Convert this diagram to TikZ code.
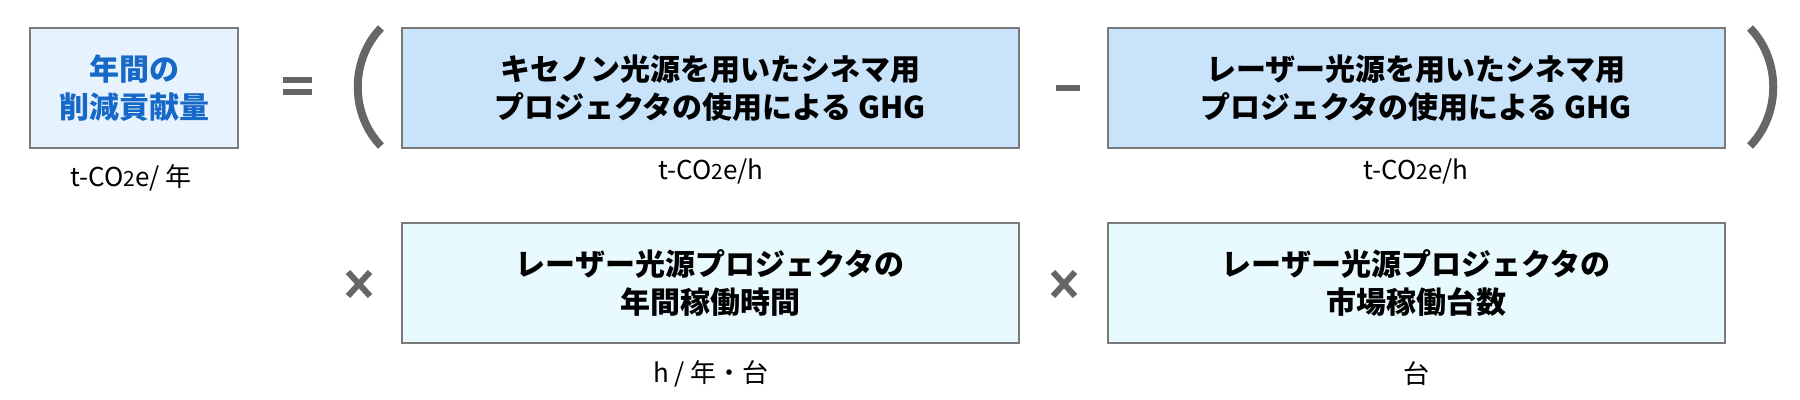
\documentclass[tikz,border=0pt]{standalone}
\usepackage{fontspec}
\setmainfont{Noto Sans CJK JP}
\definecolor{boxA}{HTML}{E6F2FD}
\definecolor{boxB}{HTML}{C9E3FA}
\definecolor{boxC}{HTML}{E8FAFD}
\definecolor{edge}{HTML}{7A7A7A}
\definecolor{op}{HTML}{666666}
\definecolor{titleblue}{HTML}{1769C8}
\newcommand{\cotwo}{t-CO{\fontsize{10.5pt}{10.5pt}\selectfont 2}e}
\begin{document}
\begin{tikzpicture}[x=0.5pt,y=-0.5pt,
  box/.style={draw=edge,line width=1pt,rectangle,align=center,inner sep=0pt,
    minimum height=60pt,font=\fontsize{15pt}{19pt}\selectfont\bfseries},
  wide/.style={box,minimum width=308.5pt},
  unit/.style={font=\fontsize{13pt}{15pt}\selectfont,inner sep=0pt,anchor=center},
  opline/.style={draw=op,line width=3pt},
  paren/.style={draw=op,line width=4pt}]
\useasboundingbox (0,0) rectangle (1800,400);
\node[box,fill=boxA,minimum width=104pt,text=titleblue] (total) at (134,88) {年間の\\削減貢献量};
\node[wide,fill=boxB] (xenon) at (710,88) {キセノン光源を用いたシネマ用\\プロジェクタの使用による GHG};
\node[wide,fill=boxB] (laser) at (1416,88) {レーザー光源を用いたシネマ用\\プロジェクタの使用による GHG};
\node[wide,fill=boxC] (hours) at (710,283) {レーザー光源プロジェクタの\\年間稼働時間};
\node[wide,fill=boxC] (units) at (1416,283) {レーザー光源プロジェクタの\\市場稼働台数};
\node[unit] (utotal) at (131,178) {\cotwo/ 年};
\node[unit] (uxenon) at (711,171) {\cotwo/h};
\node[unit] (ulaser) at (1416,171) {\cotwo/h};
\node[unit] (uhours) at (711,374) {h / 年・台};
\node[unit] (uunits) at (1416,374) {台};
% equals
\coordinate (eqL) at (283,80);
\coordinate (eqR) at (312,80);
\draw[opline] (eqL) -- (eqR);
\draw[opline] ([yshift=-6pt]eqL) -- ([yshift=-6pt]eqR);
% minus
\coordinate (miL) at (1056,88);
\coordinate (miR) at (1080,88);
\draw[opline] (miL) -- (miR);
% parentheses
\coordinate (lpT) at (381,28);
\coordinate (lpB) at (381,146);
\draw[paren] (lpT) .. controls (350,60) and (350,114) .. (lpB);
\coordinate (rpT) at (1750,28);
\coordinate (rpB) at (1750,146);
\draw[paren] (rpT) .. controls (1781,60) and (1781,114) .. (rpB);
% times
\coordinate (t1a) at (348,272);
\coordinate (t1b) at (370,296);
\draw[opline] (t1a) -- (t1b);
\draw[opline] (t1a|-t1b) -- (t1b|-t1a);
\coordinate (t2a) at (1053,272);
\coordinate (t2b) at (1075,296);
\draw[opline] (t2a) -- (t2b);
\draw[opline] (t2a|-t2b) -- (t2b|-t2a);
\end{tikzpicture}
\end{document}
